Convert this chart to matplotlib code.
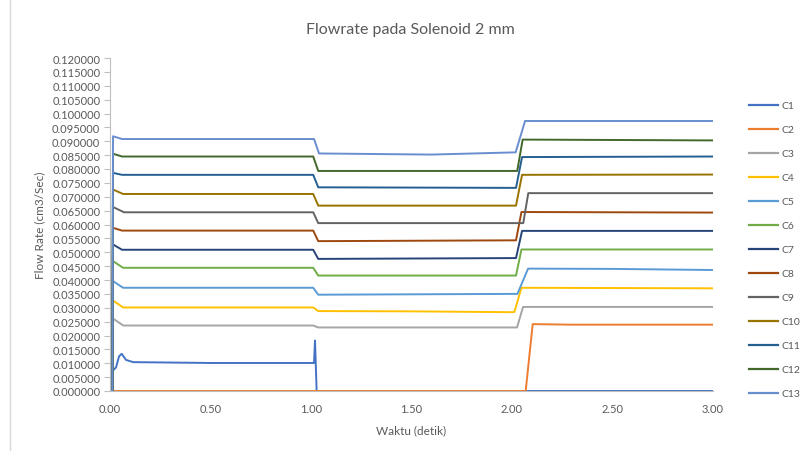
import matplotlib
matplotlib.use("Agg")
import matplotlib.pyplot as plt
from matplotlib.lines import Line2D

plt.rcParams['font.family'] = ['Lato', 'DejaVu Sans']

# ---- data ----
labels = ["C1", "C2", "C3", "C4", "C5", "C6", "C7", "C8", "C9", "C10", "C11", "C12", "C13"]
colors = ["#4472C4", "#ED7D31", "#A5A5A5", "#FFC000", "#5B9BD5", "#70AD47", "#264478",
          "#9E480E", "#636363", "#997300", "#255E91", "#43682B", "#698ED0"]

t_c1 = [0.0, 0.013, 0.015, 0.03, 0.045, 0.058, 0.08, 0.115, 0.5, 1.0, 1.015, 1.02, 1.028, 3.0]
v_c1 = [0.0, 0.0, 0.0074, 0.0085, 0.0125, 0.0134, 0.0112, 0.0104, 0.0101, 0.0101, 0.0101, 0.0182, 0.0, 0.0]

t_c2 = [0.0, 2.068, 2.103, 2.3, 3.0]
v_c2 = [0.0, 0.0, 0.0241, 0.0239, 0.0239]

t_c3 = [0.0, 0.012, 0.015, 0.066, 1.011, 1.036, 2.025, 2.055, 3.0]
v_c3 = [0.0, 0.0, 0.0261, 0.0236, 0.0236, 0.0229, 0.0229, 0.0303, 0.0303]

t_c4 = [0.0, 0.012, 0.015, 0.065, 1.011, 1.036, 1.5, 2.0, 2.012, 2.047, 3.0]
v_c4 = [0.0, 0.0, 0.0326, 0.0301, 0.0301, 0.0288, 0.0287, 0.0284, 0.0285, 0.0372, 0.0370]

t_c5 = [0.0, 0.012, 0.015, 0.065, 1.011, 1.036, 2.027, 2.08, 2.5, 3.0]
v_c5 = [0.0, 0.0, 0.0396, 0.0372, 0.0372, 0.0347, 0.0350, 0.0441, 0.0440, 0.0436]

t_c6 = [0.0, 0.012, 0.015, 0.065, 1.011, 1.036, 2.02, 2.047, 3.0]
v_c6 = [0.0, 0.0, 0.0468, 0.0444, 0.0444, 0.0416, 0.0416, 0.0510, 0.0510]

t_c7 = [0.0, 0.012, 0.015, 0.06, 1.011, 1.036, 2.02, 2.05, 3.0]
v_c7 = [0.0, 0.0, 0.0528, 0.0509, 0.0509, 0.0476, 0.0479, 0.0577, 0.0577]

t_c8 = [0.0, 0.012, 0.015, 0.06, 1.011, 1.036, 2.02, 2.047, 3.0]
v_c8 = [0.0, 0.0, 0.0588, 0.0578, 0.0578, 0.0540, 0.0543, 0.0645, 0.0643]

t_c9 = [0.0, 0.012, 0.015, 0.07, 1.011, 1.036, 2.056, 2.081, 3.0]
v_c9 = [0.0, 0.0, 0.0663, 0.0644, 0.0644, 0.0605, 0.0605, 0.0713, 0.0713]

t_c10 = [0.0, 0.012, 0.015, 0.065, 1.011, 1.036, 2.02, 2.05, 3.0]
v_c10 = [0.0, 0.0, 0.0726, 0.0710, 0.0710, 0.0668, 0.0668, 0.0779, 0.0780]

t_c11 = [0.0, 0.012, 0.015, 0.06, 1.011, 1.036, 2.02, 2.05, 3.0]
v_c11 = [0.0, 0.0, 0.0786, 0.0779, 0.0779, 0.0734, 0.0732, 0.0843, 0.0845]

t_c12 = [0.0, 0.012, 0.015, 0.06, 1.011, 1.036, 2.026, 2.053, 3.0]
v_c12 = [0.0, 0.0, 0.0855, 0.0845, 0.0845, 0.0793, 0.0793, 0.0906, 0.0903]

t_c13 = [0.0, 0.012, 0.015, 0.06, 1.015, 1.04, 1.6, 2.018, 2.065, 3.0]
v_c13 = [0.0, 0.0, 0.0918, 0.0908, 0.0908, 0.0856, 0.0852, 0.0860, 0.0973, 0.0973]

series_t = [t_c1, t_c2, t_c3, t_c4, t_c5, t_c6, t_c7, t_c8, t_c9, t_c10, t_c11, t_c12, t_c13]
series_v = [v_c1, v_c2, v_c3, v_c4, v_c5, v_c6, v_c7, v_c8, v_c9, v_c10, v_c11, v_c12, v_c13]

xticks = [0.0, 0.5, 1.0, 1.5, 2.0, 2.5, 3.0]
yticks = [i * 0.005 for i in range(25)]

title = "Flowrate pada Solenoid 2 mm"
xlabel = "Waktu (detik)"
ylabel = "Flow Rate (cm3/Sec)"

# ---- figure ----
W, H = 803, 452
fig = plt.figure(figsize=(W / 100, H / 100), dpi=100)
ax = fig.add_axes([110 / W, 1 - 392 / H, (713 - 110) / W, (392 - 59) / H])

text_col = "#595959"
axis_col = "#BFBFBF"

for t, v, c, lab in zip(series_t, series_v, colors, labels):
    ax.plot(t, v, color=c, lw=1.4, label=lab, solid_joinstyle='round')

ax.set_xlim(0, 3.0)
ax.set_ylim(0, 0.12)
ax.set_xticks(xticks)
ax.set_xticklabels([f"{x:.2f}" for x in xticks])
ax.set_yticks(yticks)
ax.set_yticklabels([f"{y:.6f}" for y in yticks])
ax.tick_params(axis='y', direction='out', length=4, width=0.8, color=axis_col,
               labelsize=8, labelcolor=text_col, pad=3)
ax.tick_params(axis='x', length=0, labelsize=8, labelcolor=text_col, pad=9)

for s in ['top', 'right']:
    ax.spines[s].set_visible(False)
for s in ['left', 'bottom']:
    ax.spines[s].set_color(axis_col)
    ax.spines[s].set_linewidth(0.8)

ax.set_xlabel(xlabel, fontsize=8.5, color=text_col, labelpad=7)
ax.set_ylabel(ylabel, fontsize=8.5, color=text_col, labelpad=5)
fig.text(410 / W, 1 - 30 / H, title, ha='center', va='center', fontsize=11.5, color=text_col)

handles = [Line2D([0], [0], color=c, lw=1.6) for c in colors]
leg = fig.legend(handles, labels, loc='upper left', bbox_to_anchor=(745 / W, 1 - 98 / H),
                 frameon=False, fontsize=7.5, handlelength=2.8, handletextpad=0.3,
                 labelspacing=1.41, borderaxespad=0)
for txt in leg.get_texts():
    txt.set_color(text_col)

# chart border line on the left
fig.add_artist(Line2D([10 / W, 10 / W], [0, 1], color="#D9D9D9", lw=1.0, transform=fig.transFigure))

fig.savefig("out.png", dpi=100)
